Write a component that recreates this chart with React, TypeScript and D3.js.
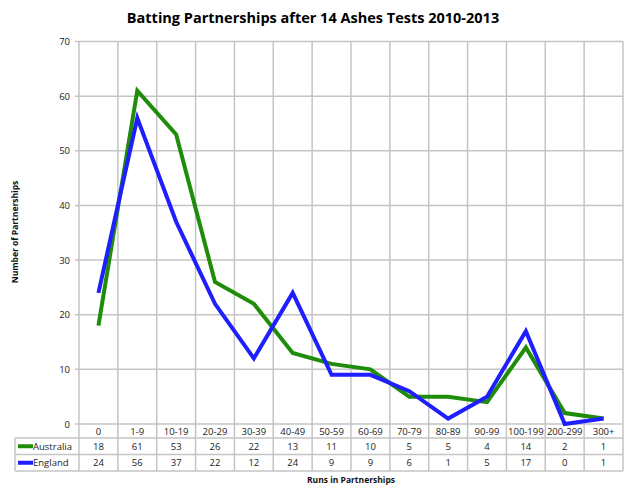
import * as d3 from 'd3';

const categories = ['0', '1-9', '10-19', '20-29', '30-39', '40-49', '50-59', '60-69', '70-79', '80-89', '90-99', '100-199', '200-299', '300+'];
const australia = [18, 61, 53, 26, 22, 13, 11, 10, 5, 5, 4, 14, 2, 1];
const england = [24, 56, 37, 22, 12, 24, 9, 9, 6, 1, 5, 17, 0, 1];
const yTicks = [0, 10, 20, 30, 40, 50, 60, 70];

const series = [
  { name: 'Australia', values: australia, color: '#1f8c0a' },
  { name: 'England', values: england, color: '#1e1eff' },
];

const width = 633;
const height = 495;
const marginLeft = 79;
const marginRight = 10;
const marginTop = 41.5;
const plotBottom = 424;
const rowH = 16.5;
const tableLeft = 15;
const font = '"Open Sans", sans-serif';
const grid = '#c4c4c4';

export default function App() {
  const x = d3.scaleBand(categories, [marginLeft, width - marginRight]);
  const y = d3.scaleLinear([0, 70], [plotBottom, marginTop]);
  const line = d3
    .line<number>()
    .x((_, i) => x(categories[i])! + x.bandwidth() / 2)
    .y((d) => y(d));

  const edges = categories.map((c) => x(c)!).concat([width - marginRight]);
  const rowTop = (r: number) => plotBottom + 14 + r * rowH; // r = 0 -> Australia row
  const tableBottom = rowTop(2);

  return (
    <svg width={width} height={height} style={{ position: 'absolute', left: 0, top: 0 }}>
      <rect width={width} height={height} fill="white" />
      <text x={313} y={23} textAnchor="middle" fontFamily={font} fontWeight="bold" fontSize={14.5}>
        Batting Partnerships after 14 Ashes Tests 2010-2013
      </text>

      {/* horizontal gridlines + y ticks */}
      {yTicks.map((t) => (
        <g key={t}>
          <line x1={marginLeft - 4} x2={width - marginRight} y1={y(t)} y2={y(t)} stroke={grid} strokeWidth={1.5} />
          <text x={70} y={y(t) + 3.5} textAnchor="end" fontFamily={font} fontSize={9.5} fill="#222">
            {t}
          </text>
        </g>
      ))}

      {/* vertical gridlines through plot and table */}
      {edges.map((e, i) => (
        <line key={i} x1={e} x2={e} y1={marginTop} y2={tableBottom} stroke={grid} strokeWidth={1.5} />
      ))}

      {/* table horizontal lines */}
      {[0, 1, 2].map((r) => (
        <line key={r} x1={tableLeft} x2={width - marginRight} y1={rowTop(r)} y2={rowTop(r)} stroke={grid} strokeWidth={1.5} />
      ))}
      <line x1={tableLeft} x2={tableLeft} y1={rowTop(0)} y2={tableBottom} stroke={grid} strokeWidth={1.5} />

      {/* category labels */}
      {categories.map((c) => (
        <text key={c} x={x(c)! + x.bandwidth() / 2} y={plotBottom + 11} textAnchor="middle" fontFamily={font} fontSize={9.5} fill="#222">
          {c}
        </text>
      ))}

      {/* data rows */}
      {series.map((s, r) => (
        <g key={s.name}>
          <line x1={18} x2={33} y1={rowTop(r) + rowH / 2} y2={rowTop(r) + rowH / 2} stroke={s.color} strokeWidth={4} />
          <text x={33} y={rowTop(r) + rowH / 2 + 3.5} fontFamily={font} fontSize={9.5} fill="#222">
            {s.name}
          </text>
          {s.values.map((v, i) => (
            <text key={i} x={x(categories[i])! + x.bandwidth() / 2} y={rowTop(r) + rowH / 2 + 3.5} textAnchor="middle" fontFamily={font} fontSize={9.5} fill="#222">
              {v}
            </text>
          ))}
        </g>
      ))}

      {/* lines */}
      {series.map((s) => (
        <path key={s.name} d={line(s.values)!} fill="none" stroke={s.color} strokeWidth={4} strokeLinejoin="miter" />
      ))}

      <text x={351} y={483} textAnchor="middle" fontFamily={font} fontWeight="bold" fontSize={8.5} fill="#111">
        Runs in Partnerships
      </text>
      <text transform={`translate(18,232) rotate(-90)`} textAnchor="middle" fontFamily={font} fontWeight="bold" fontSize={8.5} fill="#111">
        Number of Partnerships
      </text>
    </svg>
  );
}
